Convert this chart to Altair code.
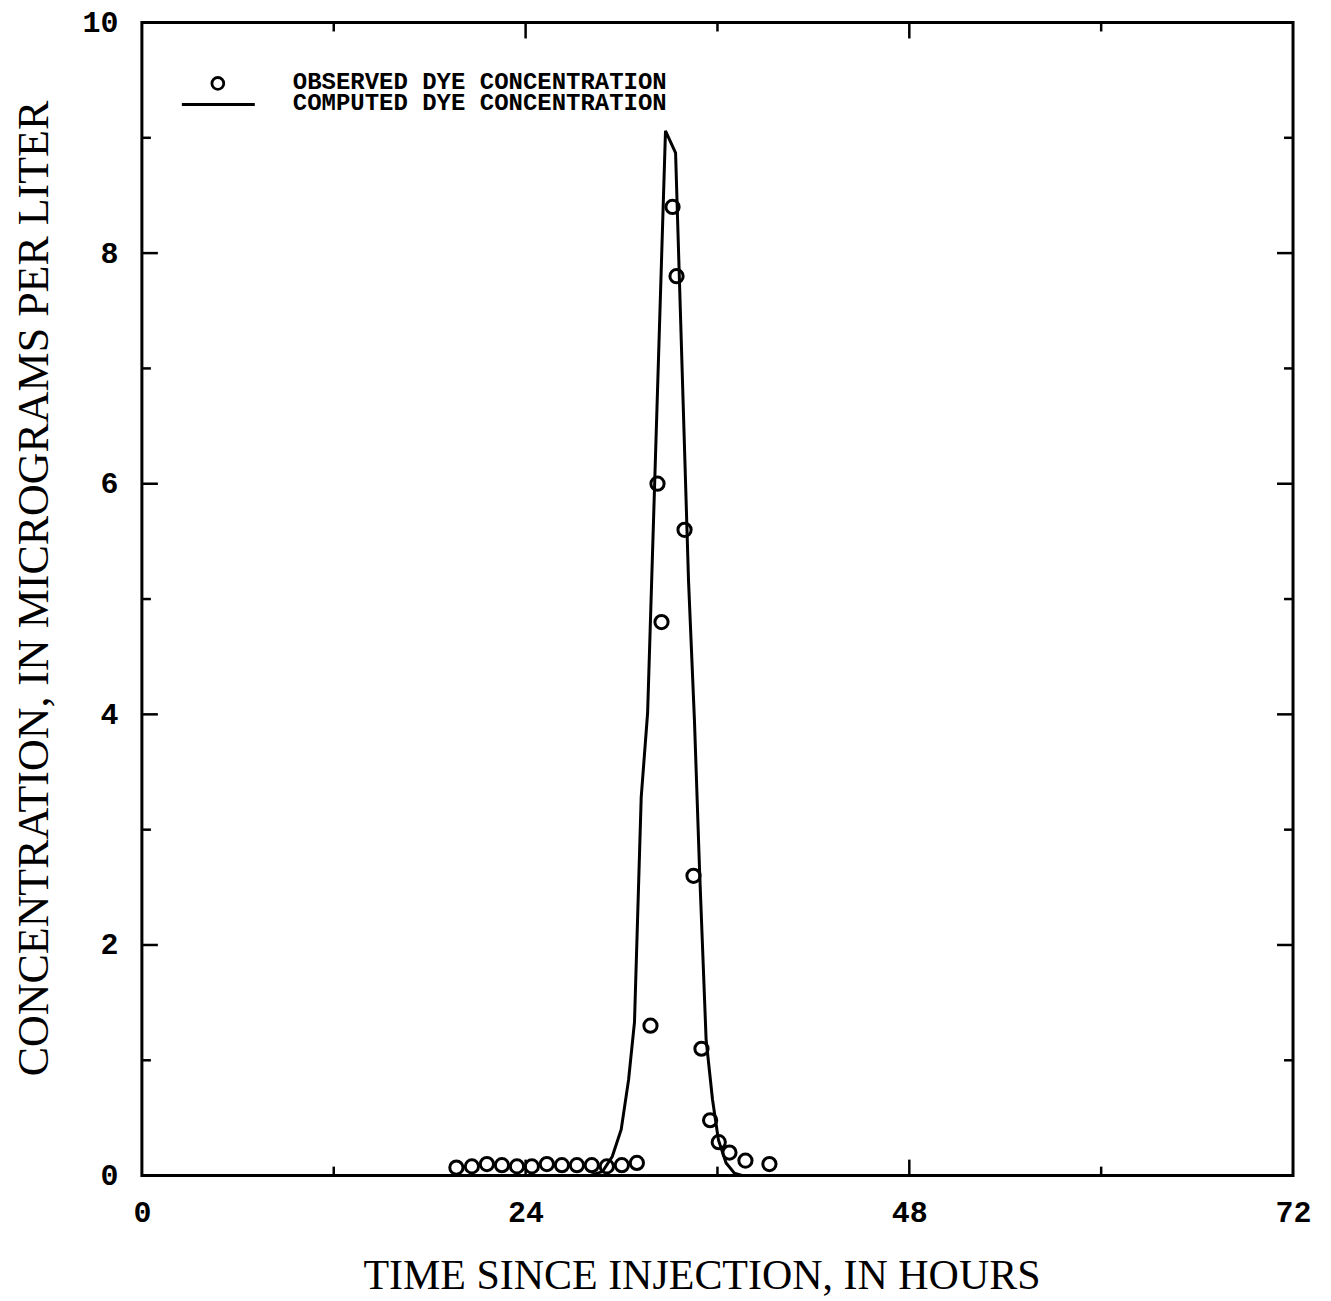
import altair as alt
import pandas as pd

# ---- data ----
obs_hours = [19.67, 20.64, 21.58, 22.52, 23.46, 24.39, 25.33, 26.27, 27.21, 28.14,
             29.08, 30.02, 30.96, 31.81, 32.25, 32.50, 33.19, 33.44, 33.94, 34.50,
             35.00, 35.54, 36.08, 36.75, 37.75, 39.25]
obs_conc = [0.07, 0.08, 0.10, 0.09, 0.08, 0.08, 0.10, 0.09, 0.09, 0.09,
            0.08, 0.09, 0.11, 1.30, 6.00, 4.80, 8.40, 7.80, 5.60, 2.60,
            1.10, 0.48, 0.29, 0.20, 0.13, 0.10]

comp_hours = [28.0, 28.81, 29.42, 29.98, 30.44, 30.81, 31.23, 31.63, 32.75, 33.38,
              34.19, 34.56, 34.88, 35.29, 35.69, 36.06, 36.54, 37.06, 37.6]
comp_conc = [0.0, 0.035, 0.165, 0.40, 0.83, 1.33, 3.28, 4.01, 9.06, 8.87,
             5.16, 3.95, 2.65, 1.18, 0.66, 0.31, 0.11, 0.02, 0.0]

x_major_ticks = [24, 48]
x_minor_ticks = [12, 36, 60]
y_major_ticks = [2, 4, 6, 8]
y_minor_ticks = [1, 3, 5, 7, 9]

x_labels = [0, 24, 48, 72]
y_labels = [0, 2, 4, 6, 8, 10]

legend_texts = ["OBSERVED DYE CONCENTRATION", "COMPUTED DYE CONCENTRATION"]

x_title = "TIME SINCE INJECTION, IN HOURS"
y_title = "CONCENTRATION, IN MICROGRAMS PER LITER"

W, H = 1152, 1154
MAJOR, MINOR = 16, 9

obs_df = pd.DataFrame({"hours": obs_hours, "conc": obs_conc})
comp_df = pd.DataFrame({"hours": comp_hours, "conc": comp_conc})

xscale = alt.Scale(domain=[0, 72], nice=False, zero=False)
yscale = alt.Scale(domain=[0, 10], nice=False, zero=False)

xaxis = alt.Axis(values=x_labels, format="d", title=x_title, grid=False, ticks=False,
                 tickSize=0, domain=False, labelFont="Liberation Mono",
                 labelFontWeight="bold", labelFontSize=30, labelColor="black",
                 labelPadding=22, titleFont="Liberation Serif", titleFontWeight="normal",
                 titleFontSize=42, titleColor="black", titlePadding=28,
                 labelFlush=False, titleX=560)
yaxis = alt.Axis(values=y_labels, format="d", title=y_title, grid=False, ticks=False,
                 tickSize=0, domain=False, labelFont="Liberation Mono",
                 labelFontWeight="bold", labelFontSize=30, labelColor="black",
                 labelPadding=24, titleFont="Liberation Serif", titleFontWeight="normal",
                 titleFontSize=44, titleColor="black", titleAngle=270,
                 titleBaseline="alphabetic", titleAlign="center",
                 labelFlush=False, titleX=-94, titleY=566)

line = alt.Chart(comp_df).mark_line(color="black", strokeWidth=3).encode(
    x=alt.X("hours:Q", scale=xscale, axis=xaxis),
    y=alt.Y("conc:Q", scale=yscale, axis=yaxis),
    order="hours:Q")

points = alt.Chart(obs_df).mark_point(shape="circle", filled=False, color="black",
                                      size=175, strokeWidth=3, opacity=1).encode(
    x=alt.X("hours:Q", scale=xscale),
    y=alt.Y("conc:Q", scale=yscale))


def xticks(vals, length, top):
    df = pd.DataFrame({"hours": vals})
    if top:
        yy, yy2 = 0, length
    else:
        yy, yy2 = H, H - length
    return alt.Chart(df).mark_rule(color="black", strokeWidth=2.5).encode(
        x=alt.X("hours:Q", scale=xscale), y=alt.value(yy), y2=alt.value(yy2))


def yticks(vals, length, right):
    df = pd.DataFrame({"conc": vals})
    if right:
        xx, xx2 = W, W - length
    else:
        xx, xx2 = 0, length
    return alt.Chart(df).mark_rule(color="black", strokeWidth=2.5).encode(
        y=alt.Y("conc:Q", scale=yscale), x=alt.value(xx), x2=alt.value(xx2))


tick_layers = [
    xticks(x_major_ticks, MAJOR, False), xticks(x_minor_ticks, MINOR, False),
    xticks(x_major_ticks, MAJOR, True), xticks(x_minor_ticks, MINOR, True),
    yticks(y_major_ticks, MAJOR, False), yticks(y_minor_ticks, MINOR, False),
    yticks(y_major_ticks, MAJOR, True), yticks(y_minor_ticks, MINOR, True),
]

# ---- legend (drawn manually in the upper-left of the plot) ----
def leg_label(txt, ypix):
    return alt.Chart(pd.DataFrame({"label": [txt]})).mark_text(
        align="left", baseline="middle", font="Liberation Mono", fontWeight="bold",
        fontSize=24, color="black").encode(
        text="label:N", x=alt.value(151), y=alt.value(ypix))


leg_sym = alt.Chart(pd.DataFrame({"k": [legend_texts[0]]})).mark_point(
    shape="circle", filled=False, color="black", size=140, strokeWidth=2.8,
    opacity=1).encode(x=alt.value(76), y=alt.value(61))

leg_line = alt.Chart(pd.DataFrame({"k": [legend_texts[1]]})).mark_rule(
    color="black", strokeWidth=3).encode(
    x=alt.value(40), x2=alt.value(113), y=alt.value(82))

chart = alt.layer(
    line, points, *tick_layers,
    leg_label(legend_texts[0], 60), leg_label(legend_texts[1], 81),
    leg_sym, leg_line
).properties(
    width=W, height=H,
    autosize=alt.AutoSizeParams(type="none"),
    padding={"left": 134, "top": 14, "right": 30, "bottom": 125},
    background="white",
).configure_view(
    stroke="black", strokeWidth=3
)

chart.save("out.html", embed_options={"renderer": "svg", "actions": False})
